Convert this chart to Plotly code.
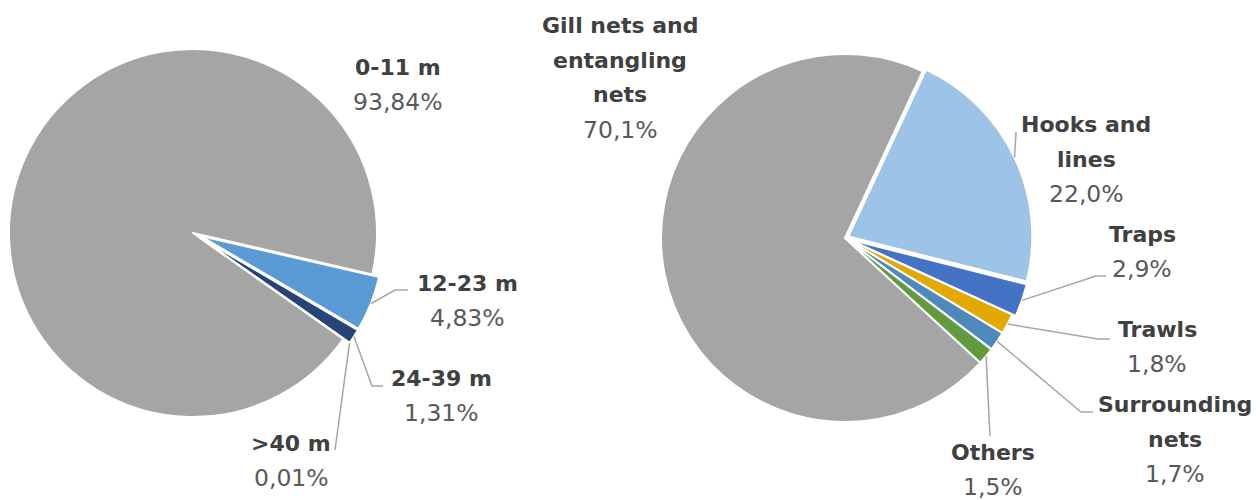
import math
import plotly.graph_objects as go

W, H = 1260, 500

# ---------------- data ----------------
vessel_labels = ["0-11 m", "12-23 m", "24-39 m", ">40 m"]
vessel_values = [93.84, 4.83, 1.31, 0.01]
vessel_colors = ["#A5A5A5", "#5B9BD5", "#264478", "#9E480E"]

gear_labels = ["Gill nets and<br>entangling<br>nets", "Hooks and<br>lines", "Traps",
               "Trawls", "Surrounding<br>nets", "Others"]
gear_values = [70.1, 22.0, 2.9, 1.8, 1.7, 1.5]
gear_colors = ["#A5A5A5", "#9DC3E6", "#4472C4", "#E2AA00", "#4F88BB", "#629B3F"]

# ---------------- layout / style ----------------
BOLD_COL = "#404040"
VAL_COL = "#595959"
LINE_COL = "#A6A6A6"
FONT = "DejaVu Sans"

pies = [
    dict(labels=vessel_labels, values=vessel_values, colors=vessel_colors,
         pull=[0, 0.04, 0.04, 0.04], cx=193, cy=233, r=184, first_end=103.0, dec=2,
         label_pos=[(398, 67), (467, 283), (442, 378), (291, 443)],
         leaders={1: [(395, 290), (408, 290)], 2: [(372, 386), (383, 386)], 3: [(335, 450)]}),
    dict(labels=gear_labels, values=gear_values, colors=gear_colors,
         pull=[0, 0.02, 0.02, 0, 0, 0], cx=845, cy=238, r=184, first_end=25.0, dec=1,
         label_pos=[(620, 25), (1086, 124), (1142, 234), (1157, 329), (1175, 404), (993, 452)],
         leaders={1: [(1016, 132)], 2: [(1096, 276), (1106, 276)], 3: [(1098, 339), (1110, 339)],
                  4: [(1081, 412), (1093, 412)], 5: [(990, 436)]}),
]


def px2paper(x, y):
    return x / W, 1 - y / H


fig = go.Figure()
annotations = []
shapes = []

for p in pies:
    vals = p["values"]
    total = sum(vals)
    rotation = p["first_end"] - 360 * vals[0] / total
    if rotation < 0:
        rotation += 360
    maxpull = max(p["pull"])
    half = p["r"] * (1 + maxpull)
    fig.add_trace(go.Pie(
        labels=[l.replace("<br>", " ") for l in p["labels"]],
        values=vals,
        sort=False,
        direction="clockwise",
        rotation=rotation,
        pull=p["pull"],
        marker=dict(colors=p["colors"], line=dict(color="white", width=2)),
        textinfo="none",
        showlegend=False,
        domain=dict(x=[(p["cx"] - half) / W, (p["cx"] + half) / W],
                    y=[1 - (p["cy"] + half) / H, 1 - (p["cy"] - half) / H]),
    ))

    # labels + leader lines
    cum = 0.0
    for i, (lab, v) in enumerate(zip(p["labels"], vals)):
        mid = rotation + 360 * (cum + v / 2) / total
        cum += v
        lx, ly = p["label_pos"][i]
        lines = lab.split("<br>")
        y = ly
        for ln in lines:
            xp, yp = px2paper(lx, y)
            annotations.append(dict(x=xp, y=yp, xref="paper", yref="paper", text="<b>%s</b>" % ln,
                                    showarrow=False, xanchor="center", yanchor="middle",
                                    font=dict(family=FONT, size=22, color=BOLD_COL)))
            y += 35
        val_txt = ("%.*f" % (p["dec"], v)).replace(".", ",") + "%"
        xp, yp = px2paper(lx, y)
        annotations.append(dict(x=xp, y=yp, xref="paper", yref="paper", text=val_txt,
                                showarrow=False, xanchor="center", yanchor="middle",
                                font=dict(family=FONT, size=23.5, color=VAL_COL)))
        if i in p["leaders"]:
            rr = p["r"] * (1 + p["pull"][i])
            a = math.radians(mid)
            sx = p["cx"] + rr * math.sin(a)
            sy = p["cy"] - rr * math.cos(a)
            pts = [(sx, sy)] + p["leaders"][i]
            path = ""
            for k, (x, yy) in enumerate(pts):
                xp, yp = px2paper(x, yy)
                path += ("M" if k == 0 else " L") + " %.5f,%.5f" % (xp, yp)
            shapes.append(dict(type="path", path=path, xref="paper", yref="paper",
                               line=dict(color=LINE_COL, width=1.5)))

fig.update_layout(
    width=W, height=H,
    margin=dict(l=0, r=0, t=0, b=0),
    paper_bgcolor="white",
    plot_bgcolor="white",
    annotations=annotations,
    shapes=shapes,
    font=dict(family=FONT),
)

fig.write_html("out.html",
               config={"displayModeBar": False},
               post_script="document.body.style.margin='0';document.body.style.overflow='hidden';")
